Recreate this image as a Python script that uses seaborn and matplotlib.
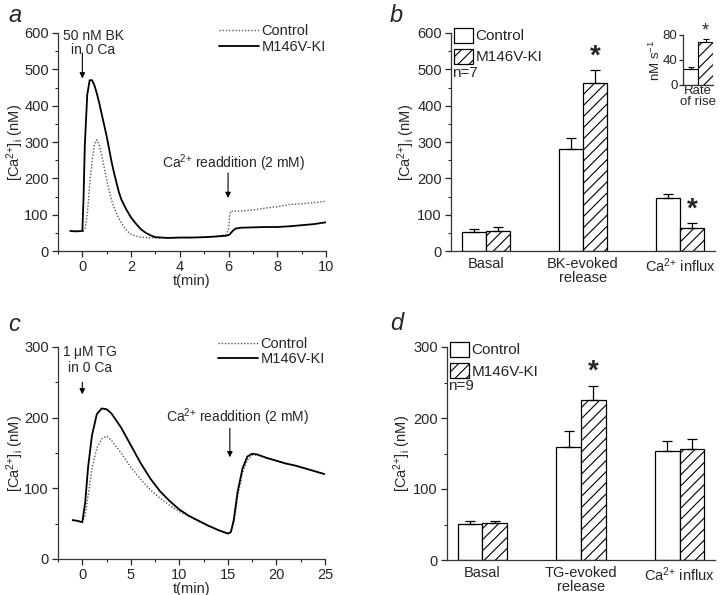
import numpy as np
import pandas as pd
import seaborn as sns
import matplotlib.pyplot as plt
from matplotlib.patches import Patch
from matplotlib.ticker import AutoMinorLocator, MultipleLocator

# ---- panel a: BK trace (nM) ----
t_a = [-0.5, -0.25, 0, 0.05, 0.1, 0.2, 0.3, 0.4, 0.5, 0.6, 0.7, 0.8, 0.9, 1.0,
       1.1, 1.2, 1.3, 1.4, 1.5, 1.6, 1.7, 1.8, 1.9, 2.0, 2.2, 2.4, 2.6, 2.8,
       3.0, 3.5, 4.0, 4.5, 5.0, 5.5, 5.9, 6.0, 6.05, 6.1, 6.2, 6.3, 6.5, 7.0,
       7.5, 8.0, 8.5, 9.0, 9.5, 10.0]
ki_a = [55, 54, 55, 150, 290, 430, 470, 470, 455, 432, 405, 375, 345, 315,
        280, 245, 215, 188, 162, 142, 128, 115, 103, 92, 75, 60, 50, 43,
        38, 36, 37, 37, 38, 40, 42, 44, 46, 50, 57, 62, 64, 65,
        66, 66, 68, 71, 74, 79]
ctrl_a = [55, 55, 54, 55, 60, 100, 180, 250, 295, 306, 290, 262, 228, 195,
          165, 140, 120, 103, 90, 78, 67, 58, 51, 46, 41, 38, 37, 36,
          36, 36, 37, 37, 38, 40, 45, 60, 100, 110, 109, 110, 110, 113,
          118, 122, 128, 130, 133, 137]

# ---- panel c: TG trace (nM) ----
t_c = [-1, -0.5, 0, 0.3, 0.6, 1.0, 1.5, 2.0, 2.5, 3, 4, 5, 6, 7, 8, 9, 10,
       11, 12, 13, 14, 15, 15.3, 15.6, 16, 16.5, 17, 17.5, 18, 19, 20, 21,
       22, 23, 24, 25]
ki_c = [55, 54, 52, 80, 130, 175, 205, 213, 212, 206, 186, 161, 136, 114, 96,
        82, 70, 61, 54, 47, 41, 36, 38, 55, 95, 128, 145, 149, 148, 143, 139,
        135, 132, 128, 124, 120]
ctrl_c = [55, 54, 52, 62, 90, 128, 157, 170, 174, 168, 150, 130, 113, 98, 86,
          76, 67, 60, 53, 47, 41, 36, 38, 50, 88, 122, 140, 147, 147, 143, 139,
          135, 132, 128, 124, 120]

# ---- panel b / d bars ----
b_groups = ["Basal", "BK-evoked\nrelease", "Ca$^{2{+}}$ influx"]
b_ctrl = [52, 280, 145]
b_ctrl_err = [8, 30, 13]
b_ki = [54, 463, 63]
b_ki_err = [11, 34, 13]

inset_ctrl, inset_ctrl_err = 25, 4
inset_ki, inset_ki_err = 68, 5

d_groups = ["Basal", "TG-evoked\nrelease", "Ca$^{2{+}}$ influx"]
d_ctrl = [51, 159, 154]
d_ctrl_err = [4, 23, 13]
d_ki = [52, 226, 156]
d_ki_err = [3, 19, 14]

sns.set_style("ticks")
plt.rcParams['font.family'] = ['Liberation Sans', 'DejaVu Sans']
plt.rcParams['mathtext.fontset'] = 'custom'
plt.rcParams['mathtext.rm'] = 'Liberation Sans'
plt.rcParams['mathtext.it'] = 'Liberation Sans:italic'
plt.rcParams['mathtext.bf'] = 'Liberation Sans:bold'
plt.rcParams['mathtext.default'] = 'regular'
plt.rcParams['font.size'] = 10.5
plt.rcParams['hatch.linewidth'] = 0.8
plt.rcParams['axes.linewidth'] = 0.9
plt.rcParams['axes.edgecolor'] = '#333333'

fig = plt.figure(figsize=(7.2, 5.95), dpi=100)
W, H = 720, 595


def add_ax(l, r, t, b):
    return fig.add_axes([l / W, 1 - b / H, (r - l) / W, (b - t) / H])


def style_ax(ax):
    sns.despine(ax=ax)
    ax.tick_params(which='major', direction='out', length=4, width=0.9, pad=2.5)
    ax.tick_params(which='minor', direction='out', length=2, width=0.8)


ylab = "[Ca$^{2{+}}$]$_{i}$ (nM)"


def trace_panel(ax, t, ctrl, ki, top, spacing):
    sns.lineplot(x=t, y=ctrl, ax=ax, color='0.35', linestyle=(0, (1, 1.3)),
                 lw=1.0, label='Control')
    sns.lineplot(x=t, y=ki, ax=ax, color='black', lw=1.3, label='M146V-KI')
    ax.legend(frameon=False, loc='upper right', handlelength=2.75,
              borderaxespad=0.0, borderpad=0, labelspacing=spacing,
              handletextpad=0.2, bbox_to_anchor=(1.0, top))
    ax.set_xlabel("t(min)", labelpad=0)
    ax.set_ylabel(ylab, labelpad=-1)
    style_ax(ax)


def arrow(ax, x, y0, y1):
    ax.annotate('', xy=(x, y1), xytext=(x, y0),
                arrowprops=dict(arrowstyle='-|>', color='black', lw=0.8,
                                mutation_scale=8, shrinkA=0, shrinkB=0))


# ---- a ----
ax = add_ax(58, 326, 33, 251)
trace_panel(ax, t_a, ctrl_a, ki_a, 1.04, 0.1)
ax.set_xlim(-1, 10)
ax.set_ylim(0, 600)
ax.xaxis.set_major_locator(MultipleLocator(2))
ax.xaxis.set_minor_locator(AutoMinorLocator(2))
ax.yaxis.set_major_locator(MultipleLocator(100))
ax.yaxis.set_minor_locator(AutoMinorLocator(2))
ax.text(0.45, 612, "50 nM BK\nin 0 Ca", ha='center', va='top', linespacing=1.0,
        fontsize=10)
arrow(ax, 0, 545, 475)
ax.text(6.2, 242, "Ca$^{2{+}}$ readdition (2 mM)", ha='center', va='center',
        fontsize=10)
arrow(ax, 5.98, 215, 146)


def bar_panel(ax, groups, ctrl, ctrl_err, ki, ki_err, ymax, stars, n_txt):
    df = pd.DataFrame({
        'group': groups * 2,
        'genotype': ['Control'] * 3 + ['M146V-KI'] * 3,
        'value': ctrl + ki,
    })
    sns.barplot(data=df, x='group', y='value', hue='genotype', width=0.5,
                palette=['white', 'white'], saturation=1, edgecolor='black',
                linewidth=0.9, errorbar=None, legend=False, ax=ax)
    for bar in ax.containers[1]:
        bar.set_hatch('///')
    for cont, errs in zip(ax.containers, [ctrl_err, ki_err]):
        for bar, e in zip(cont, errs):
            x = bar.get_x() + bar.get_width() / 2
            h = bar.get_height()
            ax.errorbar(x, h, yerr=[[0], [e]], color='black', lw=0.9,
                        capsize=3.3, capthick=0.9, fmt='none')
    for i in stars:
        bar = ax.containers[1][i]
        x = bar.get_x() + bar.get_width() / 2
        ax.text(x, bar.get_height() + ki_err[i] + ymax * 0.005, '*',
                ha='center', va='bottom', fontsize=20, fontweight='bold')
    handles = [Patch(facecolor='white', edgecolor='black', lw=0.9),
               Patch(facecolor='white', edgecolor='black', lw=0.9, hatch='///')]
    ax.legend(handles, ['Control', 'M146V-KI'], loc='upper left', frameon=False,
              bbox_to_anchor=(0.011, 1.025), borderaxespad=0, borderpad=0,
              handlelength=1.25, handleheight=1.15, labelspacing=0.35,
              handletextpad=0.15, fontsize=11)
    ax.text(0.005, 0.815, n_txt, transform=ax.transAxes, ha='left', va='center',
            fontsize=11)
    ax.set_xlim(-0.36, 2.36)
    ax.set_ylim(0, ymax)
    ax.set_xlabel('')
    ax.set_ylabel(ylab, labelpad=0)
    ax.yaxis.set_major_locator(MultipleLocator(100))
    ax.yaxis.set_minor_locator(AutoMinorLocator(2))
    style_ax(ax)
    ax.tick_params(axis='x', which='both', length=0, pad=4)
    for lab in ax.get_xticklabels():
        lab.set_linespacing(1.05)


# ---- b ----
ax = add_ax(451, 715, 33, 251)
bar_panel(ax, b_groups, b_ctrl, b_ctrl_err, b_ki, b_ki_err, 600, [1, 2], 'n=7')

# inset
axi = add_ax(683, 713, 35, 85)
sns.barplot(x=['Control', 'M146V-KI'], y=[inset_ctrl, inset_ki], ax=axi,
            palette=['white', 'white'], hue=['Control', 'M146V-KI'],
            saturation=1, edgecolor='black', linewidth=0.8, width=0.95,
            errorbar=None, legend=False)
axi.patches[1].set_hatch('///')
for bar, e in zip(axi.patches, [inset_ctrl_err, inset_ki_err]):
    x = bar.get_x() + bar.get_width() / 2
    axi.errorbar(x, bar.get_height(), yerr=[[0], [e]], color='black', lw=0.8,
                 capsize=2, capthick=0.8, fmt='none')
axi.text(1, inset_ki + inset_ki_err, '*', ha='center', va='bottom', fontsize=13)
axi.set_ylim(0, 80)
axi.set_xlim(-0.5, 1.5)
axi.set_yticks([0, 40, 80])
axi.set_xticks([])
axi.set_xlabel("Rate\nof rise", fontsize=9.5, labelpad=0, linespacing=0.85)
axi.set_ylabel("nM s$^{-1}$", fontsize=9.5, labelpad=0)
style_ax(axi)
axi.tick_params(axis='y', labelsize=9.5, pad=1, length=3)

# ---- c ----
ax = add_ax(58, 325, 347, 559)
trace_panel(ax, t_c, ctrl_c, ki_c, 1.045, 0.02)
ax.set_xlim(-2.5, 25)
ax.set_ylim(0, 300)
ax.xaxis.set_major_locator(MultipleLocator(5))
ax.xaxis.set_minor_locator(AutoMinorLocator(2))
ax.yaxis.set_major_locator(MultipleLocator(100))
ax.yaxis.set_minor_locator(AutoMinorLocator(2))
ax.text(0.8, 304, "1 $\\mu$M TG\nin 0 Ca", ha='center', va='top', linespacing=1.0,
        fontsize=10)
arrow(ax, 0, 250, 233)
ax.text(16.0, 201, "Ca$^{2{+}}$ readdition (2 mM)", ha='center', va='center',
        fontsize=10)
arrow(ax, 15.2, 185, 144)

# ---- d ----
ax = add_ax(447, 715, 347, 560)
bar_panel(ax, d_groups, d_ctrl, d_ctrl_err, d_ki, d_ki_err, 300, [1], 'n=9')

# panel letters
for x, y, s in [(8, 16, 'a'), (390, 16, 'b'), (8, 325, 'c'), (390, 323, 'd')]:
    fig.text(x / W, 1 - y / H, s, fontsize=17, style='italic', ha='left',
             va='center')

fig.savefig('out.png', dpi=100)
